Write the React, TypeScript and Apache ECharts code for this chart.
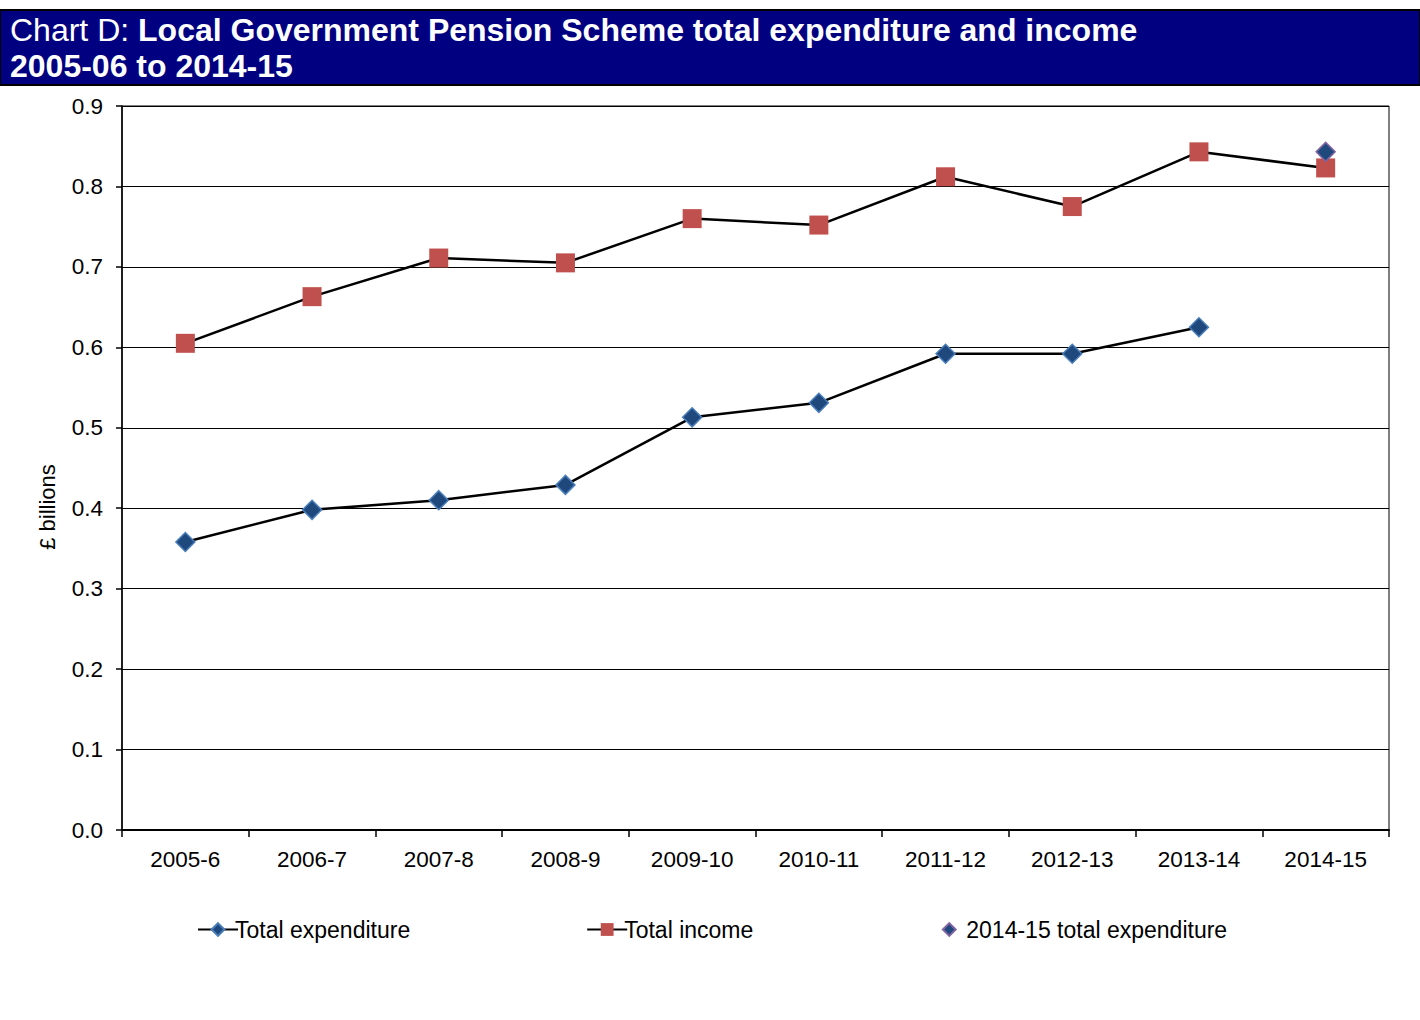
import React, { useEffect, useRef } from "react";
import * as echarts from "echarts";

const categories = ["2005-6", "2006-7", "2007-8", "2008-9", "2009-10", "2010-11", "2011-12", "2012-13", "2013-14", "2014-15"];
const totalExpenditure = [0.358, 0.398, 0.41, 0.429, 0.513, 0.531, 0.592, 0.592, 0.625, null];
const totalIncome = [0.605, 0.663, 0.711, 0.705, 0.76, 0.752, 0.812, 0.775, 0.843, 0.823];
const expenditure201415 = [null, null, null, null, null, null, null, null, null, 0.843];
const yTicks = { min: 0, max: 0.9, interval: 0.1 };

const FONT = "Liberation Sans, Arial, sans-serif";

export default function App() {
  const ref = useRef<HTMLDivElement>(null);
  useEffect(() => {
    document.body.style.margin = "0";
    const chart = echarts.init(ref.current!, null, { renderer: "svg" });
    chart.setOption({
      animation: false,
      backgroundColor: "#ffffff",
      textStyle: { fontFamily: FONT },
      graphic: [
        {
          type: "rect",
          shape: { x: 0, y: 10, width: 1420, height: 75 },
          style: { fill: "#000080", stroke: "#000000", lineWidth: 2 },
          z: 10,
        },
        {
          type: "text",
          x: 10,
          y: 12,
          z: 11,
          style: {
            text: "{n|Chart D: }{b|Local Government Pension Scheme total expenditure and income}\n{b|2005-06 to 2014-15}",
            fill: "#ffffff",
            fontFamily: FONT,
            rich: {
              n: { fontSize: 32, fontFamily: FONT, fill: "#ffffff", lineHeight: 36 },
              b: { fontSize: 32, fontWeight: "bold", fontFamily: FONT, fill: "#ffffff", lineHeight: 36 },
            },
          },
        },
        {
          type: "text",
          x: 47,
          y: 507,
          rotation: Math.PI / 2,
          z: 11,
          style: {
            text: "£ billions",
            fill: "#000",
            fontSize: 22,
            fontFamily: FONT,
            align: "center",
            verticalAlign: "middle",
          },
        },
      ],
      grid: {
        left: 122,
        right: 31,
        top: 106,
        bottom: 190,
        show: true,
        borderColor: "#000000",
        borderWidth: 1,
        backgroundColor: "transparent",
      },
      legend: {
        left: 192,
        top: 913,
        itemWidth: 40,
        itemHeight: 16,
        itemGap: 176,
        textStyle: { fontSize: 23, color: "#000", fontFamily: FONT, padding: [0, 0, 0, -8] },
        data: ["Total expenditure", "Total income", "2014-15 total expenditure"],
      },
      xAxis: {
        type: "category",
        data: categories,
        boundaryGap: true,
        axisLine: { lineStyle: { color: "#000", width: 2 } },
        axisTick: { show: true, length: 7, lineStyle: { color: "#000", width: 1.5 } },
        axisLabel: { fontSize: 22.5, color: "#000", margin: 18, fontFamily: FONT },
        splitLine: { show: false },
      },
      yAxis: {
        type: "value",
        min: yTicks.min,
        max: yTicks.max,
        interval: yTicks.interval,
        axisLine: { show: true, lineStyle: { color: "#000", width: 1.5 } },
        axisTick: { show: true, length: 6, lineStyle: { color: "#000", width: 1.5 } },
        axisLabel: {
          fontSize: 22.5,
          color: "#000",
          margin: 19,
          fontFamily: FONT,
          formatter: (v: number) => v.toFixed(1),
        },
        splitLine: { show: true, lineStyle: { color: "#000", width: 1 } },
      },
      series: [
        {
          name: "Total expenditure",
          type: "line",
          data: totalExpenditure,
          symbol: "diamond",
          symbolSize: 19,
          lineStyle: { color: "#000", width: 2.5 },
          itemStyle: { color: "#1F497D", borderColor: "#4A7EBB", borderWidth: 1.5 },
          z: 3,
        },
        {
          name: "Total income",
          type: "line",
          data: totalIncome,
          symbol: "rect",
          symbolSize: 19,
          lineStyle: { color: "#000", width: 2.5 },
          itemStyle: { color: "#C0504D", borderColor: "#C0504D", borderWidth: 0 },
          z: 3,
        },
        {
          name: "2014-15 total expenditure",
          type: "line",
          data: expenditure201415,
          symbol: "diamond",
          symbolSize: 19,
          lineStyle: { width: 0, opacity: 0 },
          itemStyle: { color: "#1F497D", borderColor: "#8064A2", borderWidth: 1.5 },
          z: 4,
        },
      ],
    });
    return () => chart.dispose();
  }, []);
  return <div ref={ref} style={{ position: "absolute", left: 0, top: 0, width: 1420, height: 1020 }} />;
}
